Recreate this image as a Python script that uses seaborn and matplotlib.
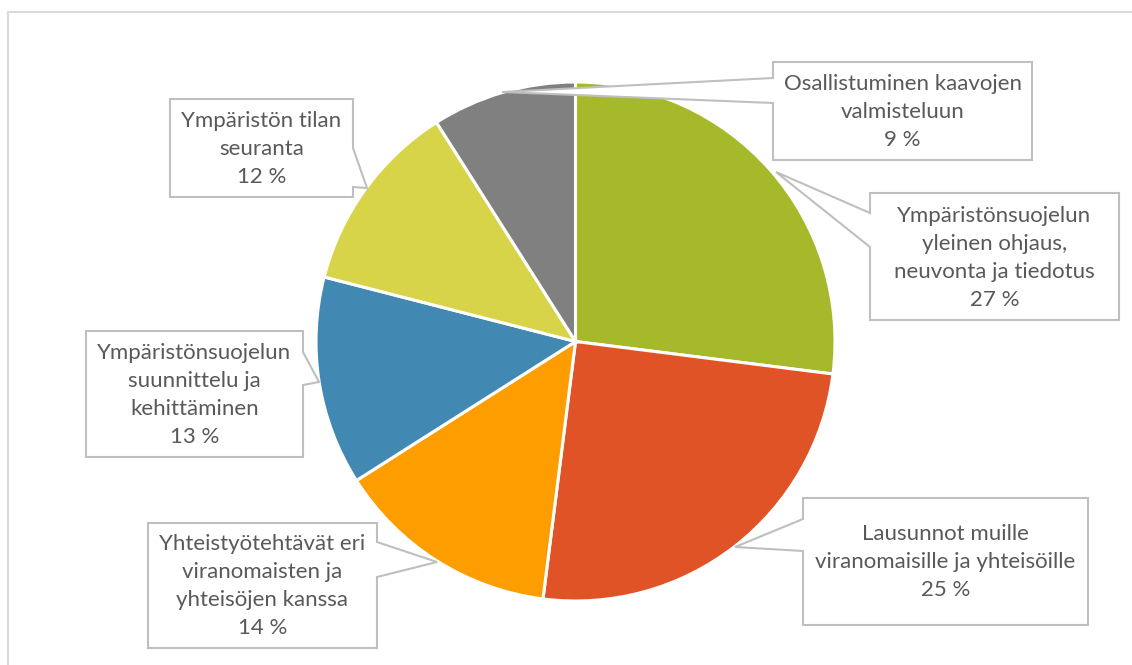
import matplotlib
matplotlib.use("Agg")
import matplotlib.pyplot as plt
from matplotlib.patches import Polygon
import seaborn as sns

# ======================
# data
# ======================
categories = [
    "Ympäristönsuojelun\nyleinen ohjaus,\nneuvonta ja tiedotus",
    "Lausunnot muille\nviranomaisille ja yhteisöille",
    "Yhteistyötehtävät eri\nviranomaisten ja\nyhteisöjen kanssa",
    "Ympäristönsuojelun\nsuunnittelu ja\nkehittäminen",
    "Ympäristön tilan\nseuranta",
    "Osallistuminen kaavojen\nvalmisteluun",
]
shares = [27, 25, 14, 13, 12, 9]
slice_colors = ["#A6B92A", "#E05327", "#FE9D00", "#4189B3", "#D8D449", "#808080"]

# callout boxes in pixel coords: box (x0, y0, x1, y1), side of wedge, wedge edge y's, tip
callouts = [
    ((870, 193, 1119, 320), "left", (213, 247), (776, 172)),
    ((803, 498, 1088, 625), "left", (519, 551), (735, 547)),
    ((148, 523, 377, 648), "right", (542, 577), (437, 562)),
    ((86, 331, 303, 457), "right", (352, 385), (319, 382)),
    ((170, 99, 353, 197), "right", (148, 187), (367, 188)),
    ((773, 62, 1032, 160), "left", (78, 103), (502, 92)),
]

sns.set_theme(style="white")
plt.rcParams["font.family"] = ["Lato", "DejaVu Sans"]

W, H = 1132, 665
fig = plt.figure(figsize=(W / 100, H / 100), dpi=100)
ax = fig.add_axes([0, 0, 1, 1])

# pie (y axis inverted -> counterclock=True draws clockwise on screen)
ax.pie(shares, colors=slice_colors, center=(575.5, 341.5), radius=259.5,
       startangle=-90, counterclock=True, frame=True,
       wedgeprops=dict(edgecolor="white", linewidth=2.2))
ax.set_xlim(0, W)
ax.set_ylim(H, 0)
ax.set_aspect("equal")
ax.axis("off")


def callout_poly(box, side, edge, tip):
    x0, y0, x1, y1 = box
    a, b = edge
    if side == "left":
        pts = [(x0, y0), (x1, y0), (x1, y1), (x0, y1), (x0, b), tip, (x0, a)]
    else:
        pts = [(x0, y0), (x1, y0), (x1, a), tip, (x1, b), (x1, y1), (x0, y1)]
    return pts


for (box, side, edge, tip), name, v in zip(callouts, categories, shares):
    poly = Polygon(callout_poly(box, side, edge, tip), closed=True,
                   facecolor="white", edgecolor="#BFBFBF", linewidth=1.5, zorder=5)
    ax.add_patch(poly)
    x0, y0, x1, y1 = box
    ax.text((x0 + x1) / 2, (y0 + y1) / 2 + 1, f"{name}\n{v} %", ha="center", va="center",
            fontsize=16, color="#595959", linespacing=1.5, zorder=6)

# chart area border (only top and left visible in the crop)
ax.plot([8, 8, W + 5], [H + 5, 12, 12], color="#D9D9D9", linewidth=1.5, zorder=1,
        clip_on=False)

fig.savefig("out.png", dpi=100)
